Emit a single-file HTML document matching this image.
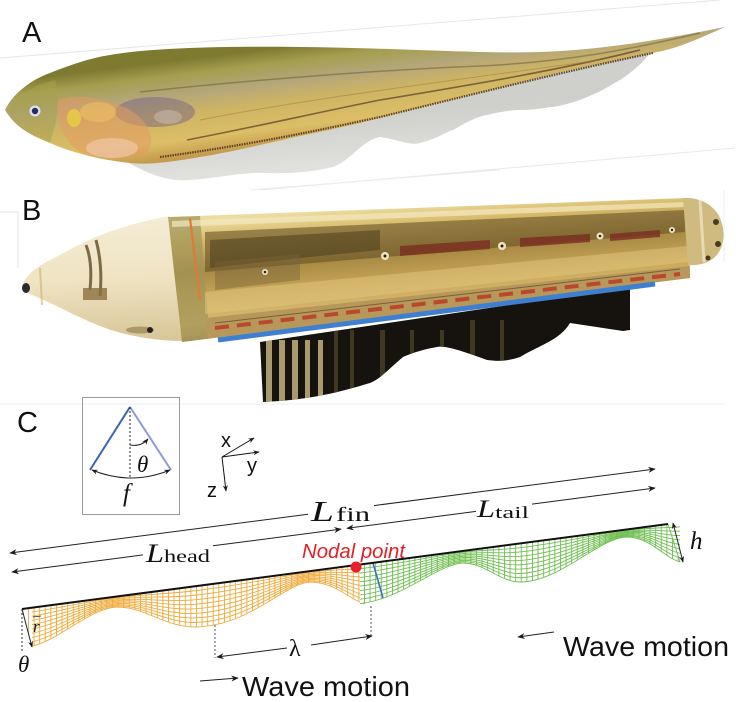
<!DOCTYPE html>
<html><head><meta charset="utf-8"><style>
html,body{margin:0;padding:0;background:#fff;}
svg{display:block;}
.sans{font-family:"Liberation Sans",sans-serif;}
.serif{font-family:"Liberation Serif",serif;}
</style></head><body>
<svg width="754" height="702" viewBox="0 0 754 702" xmlns="http://www.w3.org/2000/svg">
<defs>
  <marker id="ah" viewBox="0 0 10 8" refX="9" refY="4" markerWidth="9" markerHeight="6" markerUnits="userSpaceOnUse" orient="auto-start-reverse">
    <path d="M0,0 L10,4 L0,8 L3,4 z" fill="#1a1a1a"/>
  </marker>
  <marker id="ahs" viewBox="0 0 10 8" refX="9" refY="4" markerWidth="7" markerHeight="5" markerUnits="userSpaceOnUse" orient="auto-start-reverse">
    <path d="M0,0 L10,4 L0,8 L3,4 z" fill="#1a1a1a"/>
  </marker>
  <linearGradient id="fishG" gradientUnits="userSpaceOnUse" x1="300" y1="45" x2="312" y2="142">
    <stop offset="0" stop-color="#7e7a30"/>
    <stop offset="0.15" stop-color="#a49e4e"/>
    <stop offset="0.35" stop-color="#b4a67a"/>
    <stop offset="0.55" stop-color="#cdb464"/>
    <stop offset="0.82" stop-color="#dcbe66"/>
    <stop offset="1" stop-color="#c49a4c"/>
  </linearGradient>
  <linearGradient id="finG" gradientUnits="userSpaceOnUse" x1="300" y1="120" x2="305" y2="185">
    <stop offset="0" stop-color="#cfcfcb"/>
    <stop offset="1" stop-color="#e6e6e3"/>
  </linearGradient>
  <linearGradient id="tubeG" gradientUnits="userSpaceOnUse" x1="400" y1="205" x2="410" y2="330">
    <stop offset="0" stop-color="#ecdca0"/>
    <stop offset="0.15" stop-color="#d8bc6c"/>
    <stop offset="0.4" stop-color="#a88a44"/>
    <stop offset="0.62" stop-color="#caa85a"/>
    <stop offset="0.82" stop-color="#d6ba70"/>
    <stop offset="1" stop-color="#a88848"/>
  </linearGradient>
  <linearGradient id="coneG" gradientUnits="userSpaceOnUse" x1="100" y1="220" x2="105" y2="340">
    <stop offset="0" stop-color="#f4ecd4"/>
    <stop offset="0.5" stop-color="#efe3c2"/>
    <stop offset="1" stop-color="#d9c79a"/>
  </linearGradient>
  <pattern id="vlO" width="5.6" height="20" patternUnits="userSpaceOnUse">
    <rect x="0" y="0" width="0.9" height="20" fill="#eeaa3a"/>
  </pattern>
  <pattern id="vlG" width="5.6" height="20" patternUnits="userSpaceOnUse">
    <rect x="0" y="0" width="0.9" height="20" fill="#6fbf50"/>
  </pattern>
  <path id="obot" d="M32,646 C60,640 90,608 117,607 C145,607 165,627 195,627 C250,626 285,583 310,582 C335,582 350,600 365,604" fill="none" stroke="#eeaa3a" stroke-width="0.9" vector-effect="non-scaling-stroke"/>
  <path id="gbot" d="M360,603.5 C400,600 440,563 463,563 C485,563 500,582 520,582 C560,582 600,537 627,537 C650,537 665,558 680,562" fill="none" stroke="#6fbf50" stroke-width="0.9" vector-effect="non-scaling-stroke"/>
  <clipPath id="finClip">
    <path d="M260,342 L630,287 L630,330 L623,331 L570,323 C560,340 540,345 520,357 C505,362 495,361 487,360 C465,352 445,345 437,347 C420,350 410,354 403,357 C390,368 380,379 370,383 C340,392 310,400 263,402 Z"/>
  </clipPath>
  <clipPath id="tubeClip">
    <path d="M168,217 L688,198 L690,278 L182,342 Z"/>
  </clipPath>
</defs>

<!-- faint photo boundaries -->
<line x1="0" y1="58" x2="720" y2="0" stroke="#e6e6e6" stroke-width="1"/>
<line x1="260" y1="190" x2="735" y2="148" stroke="#e8e8e8" stroke-width="1"/>
<line x1="250" y1="190" x2="500" y2="170" stroke="#ececec" stroke-width="1"/>
<line x1="18" y1="212" x2="18" y2="268" stroke="#e6e6e6" stroke-width="1"/>
<line x1="0" y1="212" x2="18" y2="212" stroke="#e6e6e6" stroke-width="1"/>
<line x1="0" y1="404" x2="725" y2="404" stroke="#ececec" stroke-width="1"/>
<line x1="724" y1="190" x2="724" y2="262" stroke="#ececec" stroke-width="1"/>

<!-- Panel labels -->
<text x="22" y="42" class="sans" font-size="29" fill="#111">A</text>
<text x="22" y="220" class="sans" font-size="29" fill="#111">B</text>
<text x="17" y="432" class="sans" font-size="29" fill="#111">C</text>

<!-- ===== FISH ===== -->
<path d="M127,162 C150,175 170,182 190,180 C220,178 240,172 267,173 C300,174 320,170 333,167 C352,160 362,140 380,137 C400,140 410,146 420,143 C440,138 445,132 453,130 C470,120 480,116 487,115 C500,112 510,110 520,110 C540,110 545,107 553,107 C570,104 580,100 587,97 C605,90 612,84 620,80 C635,70 645,60 650,53 L570,70 L380,118 L200,157 Z" fill="url(#finG)"/>
<path d="M5,110 C12,95 30,80 50,73 C70,65 90,58 110,55 C150,48 220,46 300,47 C400,48 480,54 540,52 C600,50 660,40 725,27 C700,38 680,48 653,53 C620,60 600,64 570,70 C530,80 500,88 470,95 C440,103 410,110 380,118 C340,128 320,132 300,136 C260,145 230,152 200,157 C170,162 150,165 130,163 C100,160 70,152 50,143 C30,135 15,127 5,110 Z" fill="url(#fishG)"/>
<!-- head tones -->
<path d="M8,112 C15,98 30,86 55,80 C60,95 58,120 50,142 C30,135 15,127 8,112 Z" fill="#a8a050" opacity="0.55"/>
<ellipse cx="155" cy="112" rx="40" ry="15" fill="#6e5e86" opacity="0.45"/>
<ellipse cx="168" cy="117" rx="14" ry="7" fill="#cbbfb4" opacity="0.5"/>
<path d="M58,100 C80,92 110,100 130,110 C150,122 155,140 148,152 C130,162 100,160 80,152 C62,140 55,118 58,100 Z" fill="#e49a62" opacity="0.55"/>
<ellipse cx="112" cy="148" rx="26" ry="10" fill="#f0c6a6" opacity="0.7"/>
<ellipse cx="98" cy="112" rx="18" ry="10" fill="#ecc060" opacity="0.6"/>
<ellipse cx="74" cy="118" rx="7" ry="9" fill="#e8d040" opacity="0.8"/>
<circle cx="35" cy="111" r="5.5" fill="#dfe2ee"/>
<circle cx="35" cy="111" r="3.2" fill="#233066"/>
<!-- stripes -->
<path d="M140,92 C250,80 380,70 480,66 C560,62 620,52 700,33" fill="none" stroke="#6a6038" stroke-width="1.5" opacity="0.55"/>
<path d="M187,140 C250,128 320,112 380,100 C470,85 560,70 640,50" fill="none" stroke="#5a3c2a" stroke-width="1.6" opacity="0.7"/>
<path d="M160,157 C250,145 320,130 380,117 C470,95 570,70 653,53" fill="none" stroke="#4c321c" stroke-width="2.2" stroke-dasharray="1.5 1" opacity="0.85"/>
<path d="M200,120 C300,100 420,85 600,60" fill="none" stroke="#a07840" stroke-width="1" opacity="0.5"/>

<!-- ===== ROBOT ===== -->
<!-- fin -->
<path d="M260,342 L630,287 L630,330 L623,331 L570,323 C560,340 540,345 520,357 C505,362 495,361 487,360 C465,352 445,345 437,347 C420,350 410,354 403,357 C390,368 380,379 370,383 C340,392 310,400 263,402 Z" fill="#16130e"/>
<g clip-path="url(#finClip)">
  <g fill="#a89a6c">
    <rect x="266" y="340" width="6" height="70"/>
    <rect x="279" y="340" width="6" height="70"/>
    <rect x="292" y="340" width="6" height="70"/>
    <rect x="305" y="340" width="5" height="70"/>
    <rect x="318" y="340" width="5" height="70"/>
  </g>
  <g fill="#4a4228" opacity="0.8">
    <rect x="334" y="330" width="4" height="70"/>
    <rect x="350" y="330" width="4" height="70"/>
    <rect x="380" y="330" width="5" height="70"/>
    <rect x="410" y="330" width="4" height="70"/>
    <rect x="440" y="330" width="4" height="70"/>
    <rect x="470" y="320" width="5" height="70"/>
    <rect x="500" y="320" width="4" height="70"/>
  </g>
</g>
<!-- cone -->
<path d="M23,283 C30,270 45,262 60,255 C90,238 120,225 170,216 L182,341 C150,341 120,334 100,326 C75,316 50,302 30,294 C24,291 22,287 23,283 Z" fill="url(#coneG)"/>
<ellipse cx="26" cy="288" rx="4" ry="5" fill="#2a2a2a"/>
<path d="M40,268 L42,305" stroke="#c8b070" stroke-width="2" opacity="0.6"/>
<path d="M86,245 C90,255 92,270 90,290 M96,240 C100,255 102,275 100,296" stroke="#7a6a48" stroke-width="3" fill="none"/>
<rect x="83" y="288" width="24" height="12" fill="#8a7040" opacity="0.8"/>
<ellipse cx="140" cy="330" rx="14" ry="3.5" fill="#a08a58" opacity="0.8"/>
<circle cx="150" cy="330" r="3" fill="#2a2220"/>
<!-- tube -->
<path d="M168,217 L688,198 L690,278 L182,342 Z" fill="url(#tubeG)"/>
<g clip-path="url(#tubeClip)">
  <path d="M168,217 L200,216 L210,342 L182,342 Z" fill="#a09458" opacity="0.7"/>
  <path d="M172,221 L686,202 L686,207 L172,227 Z" fill="#f3e8c0" opacity="0.7"/>
  <path d="M205,232 L685,210 L685,232 L205,272 Z" fill="#5e4a22" opacity="0.55"/>
  <path d="M210,240 L380,230 L380,250 L300,258 L210,268 Z" fill="#3e3218" opacity="0.45"/>
  <path d="M215,262 L300,254 L300,280 L215,290 Z" fill="#7a6438" opacity="0.45"/>
  <g fill="#7a2e22" opacity="0.8">
    <path d="M400,246 L490,240 L490,249 L400,256 Z"/>
    <path d="M520,238 L590,234 L590,242 L520,247 Z"/>
    <path d="M610,234 L660,230 L660,237 L610,241 Z"/>
  </g>
  <path d="M205,292 L688,246 L688,262 L205,314 Z" fill="#e2c880" opacity="0.5"/>
  <path d="M205,318 L690,266 L690,282 L208,342 Z" fill="#b8985a"/>
</g>
<path d="M190,218 L200,300" stroke="#e07a3a" stroke-width="2.2"/>
<g fill="#f0e4c0">
  <circle cx="265" cy="272" r="3"/><circle cx="385" cy="256" r="4"/><circle cx="502" cy="246" r="4"/><circle cx="600" cy="236" r="3.5"/><circle cx="672" cy="230" r="3"/>
</g>
<g fill="#2a2218">
  <circle cx="265" cy="272" r="1.3"/><circle cx="385" cy="256" r="1.5"/><circle cx="502" cy="246" r="1.5"/><circle cx="600" cy="236" r="1.3"/><circle cx="672" cy="230" r="1.2"/>
</g>
<line x1="215" y1="328" x2="680" y2="274" stroke="#b8482e" stroke-width="4" stroke-dasharray="14 8"/>
<line x1="215" y1="323" x2="680" y2="269" stroke="#5a4a2a" stroke-width="1" opacity="0.7"/>
<line x1="218" y1="340" x2="655" y2="284" stroke="#3f7fd0" stroke-width="5"/>
<!-- end cap -->
<path d="M683,198 C700,197 713,205 719,216 C725,228 725,242 719,252 C713,262 700,266 688,265 Z" fill="#cfba80"/>
<path d="M700,200 L704,262" stroke="#f3eacb" stroke-width="3" opacity="0.7"/>
<circle cx="716" cy="222" r="3" fill="#4a3a20"/><circle cx="718" cy="244" r="3" fill="#4a3a20"/><circle cx="708" cy="258" r="2.5" fill="#4a3a20"/>

<!-- ===== PANEL C ===== -->
<!-- inset -->
<rect x="82.5" y="397.5" width="97" height="117" fill="none" stroke="#9a9a9a" stroke-width="1"/>
<line x1="130" y1="407" x2="90" y2="470" stroke="#3c64b4" stroke-width="2"/>
<line x1="130" y1="407" x2="171" y2="470" stroke="#8c9ad2" stroke-width="2"/>
<line x1="130" y1="407" x2="130" y2="478" stroke="#222" stroke-width="1" stroke-dasharray="2 2"/>
<path d="M92,470 Q131,486 170,470" fill="none" stroke="#222" stroke-width="1" marker-start="url(#ahs)" marker-end="url(#ahs)"/>
<path d="M130,445 Q141,447 148,439" fill="none" stroke="#222" stroke-width="1" marker-end="url(#ahs)"/>
<text x="137" y="472" class="serif" font-style="italic" font-size="23" fill="#111">θ</text>
<text x="123" y="501" class="serif" font-style="italic" font-size="25" fill="#111">f</text>

<!-- axes -->
<line x1="222" y1="457" x2="254" y2="438" stroke="#111" stroke-width="1" marker-end="url(#ahs)"/>
<line x1="222" y1="457" x2="259" y2="452" stroke="#111" stroke-width="1" marker-end="url(#ahs)"/>
<line x1="222" y1="457" x2="226" y2="491" stroke="#111" stroke-width="1" marker-end="url(#ahs)"/>
<text x="221" y="447" class="sans" font-size="20" fill="#111">x</text>
<text x="247" y="472" class="sans" font-size="20" fill="#111">y</text>
<text x="207" y="497" class="sans" font-size="20" fill="#111">z</text>

<!-- L_fin line -->
<line x1="10" y1="553" x2="308" y2="514.2" stroke="#222" stroke-width="1" marker-start="url(#ah)"/>
<line x1="374" y1="505.6" x2="655" y2="469" stroke="#222" stroke-width="1" marker-end="url(#ah)"/>
<text x="311" y="521" class="serif" font-style="italic" font-size="28" fill="#111" textLength="23" lengthAdjust="spacingAndGlyphs">L</text>
<text x="336" y="521" class="serif" font-size="20" fill="#111" textLength="34" lengthAdjust="spacingAndGlyphs">fin</text>

<!-- L_head / L_tail line -->
<line x1="12" y1="572" x2="143" y2="554.9" stroke="#222" stroke-width="1" marker-start="url(#ah)"/>
<line x1="213" y1="545.8" x2="341" y2="529.1" stroke="#222" stroke-width="1" marker-end="url(#ah)"/>
<text x="146" y="562" class="serif" font-style="italic" font-size="26" fill="#111" textLength="18" lengthAdjust="spacingAndGlyphs">L</text>
<text x="164" y="562" class="serif" font-size="18" fill="#111" textLength="46" lengthAdjust="spacingAndGlyphs">head</text>
<line x1="347" y1="528.3" x2="476" y2="511.4" stroke="#222" stroke-width="1" marker-start="url(#ah)"/>
<line x1="532" y1="504.1" x2="655" y2="488" stroke="#222" stroke-width="1" marker-end="url(#ah)"/>
<text x="477" y="517" class="serif" font-style="italic" font-size="25" fill="#111" textLength="18" lengthAdjust="spacingAndGlyphs">L</text>
<text x="495" y="518" class="serif" font-size="17" fill="#111" textLength="34" lengthAdjust="spacingAndGlyphs">tail</text>

<!-- mesh orange -->
<path d="M22,609 L365,563.9 L365,604 C350,600 335,582 310,582 C285,583 250,626 195,627 C165,627 145,607 117,607 C90,608 60,640 32,646 Z" fill="url(#vlO)"/>
<use href="#obot" transform="matrix(1,-0.1170,0,0.1111,0,543.9)"/>
<use href="#obot" transform="matrix(1,-0.1024,0,0.2222,0,475.9)"/>
<use href="#obot" transform="matrix(1,-0.0877,0,0.3333,0,407.9)"/>
<use href="#obot" transform="matrix(1,-0.0731,0,0.4444,0,339.9)"/>
<use href="#obot" transform="matrix(1,-0.0585,0,0.5556,0,271.9)"/>
<use href="#obot" transform="matrix(1,-0.0439,0,0.6667,0,204.0)"/>
<use href="#obot" transform="matrix(1,-0.0292,0,0.7778,0,136.0)"/>
<use href="#obot" transform="matrix(1,-0.0146,0,0.8889,0,68.0)"/>
<use href="#obot"/>

<!-- mesh green -->
<path d="M360,564.5 L668,524 L680,562 C665,558 650,537 627,537 C600,537 560,582 520,582 C500,582 485,563 463,563 C440,563 400,600 360,603.5 Z" fill="#fff"/>
<path d="M360,564.5 L668,524 L680,562 C665,558 650,537 627,537 C600,537 560,582 520,582 C500,582 485,563 463,563 C440,563 400,600 360,603.5 Z" fill="url(#vlG)"/>
<use href="#gbot" transform="matrix(1,-0.1170,0,0.1111,0,543.9)"/>
<use href="#gbot" transform="matrix(1,-0.1024,0,0.2222,0,475.9)"/>
<use href="#gbot" transform="matrix(1,-0.0877,0,0.3333,0,407.9)"/>
<use href="#gbot" transform="matrix(1,-0.0731,0,0.4444,0,339.9)"/>
<use href="#gbot" transform="matrix(1,-0.0585,0,0.5556,0,271.9)"/>
<use href="#gbot" transform="matrix(1,-0.0439,0,0.6667,0,204.0)"/>
<use href="#gbot" transform="matrix(1,-0.0292,0,0.7778,0,136.0)"/>
<use href="#gbot" transform="matrix(1,-0.0146,0,0.8889,0,68.0)"/>
<use href="#gbot"/>
<line x1="668" y1="524" x2="680" y2="562" stroke="#6fbf50" stroke-width="0.9"/>
<line x1="373" y1="563" x2="383" y2="598" stroke="#3a6cc0" stroke-width="1.6"/>

<!-- top black edge -->
<line x1="22" y1="609" x2="668" y2="524" stroke="#111" stroke-width="2"/>
<circle cx="356" cy="567" r="5.5" fill="#e8202a"/>
<text x="302" y="558" class="sans" font-style="italic" font-size="20" fill="#e41e26" textLength="103" lengthAdjust="spacingAndGlyphs">Nodal point</text>

<!-- h -->
<line x1="673" y1="523" x2="683" y2="562" stroke="#222" stroke-width="1" marker-start="url(#ahs)" marker-end="url(#ahs)"/>
<text x="690" y="549" class="serif" font-style="italic" font-size="25" fill="#111">h</text>

<!-- left edge r / theta -->
<line x1="22" y1="609" x2="22" y2="651" stroke="#333" stroke-width="1" stroke-dasharray="2 2"/>
<line x1="22" y1="609" x2="32" y2="647" stroke="#222" stroke-width="1" marker-end="url(#ahs)"/>
<text x="33" y="632" class="serif" font-style="italic" font-size="17" fill="#111">r</text>
<line x1="33" y1="617" x2="41" y2="616" stroke="#222" stroke-width="0.8"/>
<text x="18" y="672" class="serif" font-style="italic" font-size="23" fill="#111">θ</text>

<!-- lambda -->
<line x1="215" y1="625" x2="215" y2="658" stroke="#555" stroke-width="1" stroke-dasharray="2 2"/>
<line x1="371" y1="606" x2="371" y2="637" stroke="#555" stroke-width="1" stroke-dasharray="2 2"/>
<line x1="287" y1="648" x2="217" y2="657" stroke="#222" stroke-width="1" marker-end="url(#ah)"/>
<line x1="311" y1="645" x2="372" y2="636" stroke="#222" stroke-width="1" marker-end="url(#ah)"/>
<text x="289" y="656" class="serif" font-size="24" fill="#111">λ</text>

<!-- wave motion -->
<line x1="200" y1="681" x2="238" y2="678" stroke="#222" stroke-width="1" marker-end="url(#ah)"/>
<text x="242" y="696" class="sans" font-size="28" fill="#111" textLength="168" lengthAdjust="spacingAndGlyphs">Wave motion</text>
<line x1="554" y1="632" x2="518" y2="637" stroke="#222" stroke-width="1" marker-end="url(#ah)"/>
<text x="563" y="656" class="sans" font-size="28" fill="#111" textLength="166" lengthAdjust="spacingAndGlyphs">Wave motion</text>
</svg>
</body></html>
